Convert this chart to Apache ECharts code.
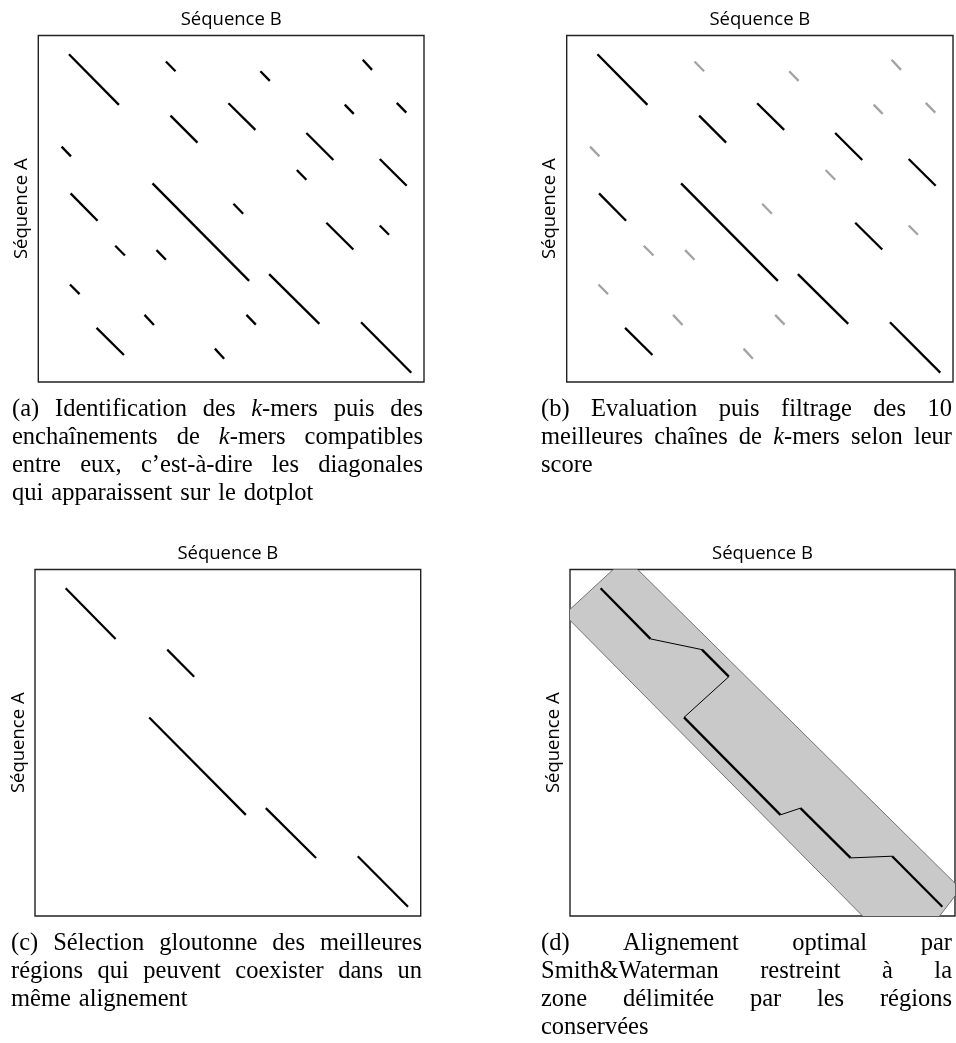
<!DOCTYPE html>
<html><head><meta charset="utf-8">
<script src="https://cdn.jsdelivr.net/npm/echarts@6/dist/echarts.min.js"></script>
<style>html,body{margin:0;padding:0;background:#fff}#c{width:956px;height:1043px}</style>
</head><body><div id="c"></div>
<script>
// ---------- data ----------
const xAxisName = 'Séquence B';
const yAxisName = 'Séquence A';
const seqBLength = 386;   // horizontal extent of the dotplot
const seqALength = 346;   // vertical extent of the dotplot

// diagonals found on the dotplot: [startB, startA, endB, endA]
const diagonals = [
  [30.7, 18.7, 80.7, 69.3],
  [127.7, 26, 137.3, 35.7],
  [222.3, 35.7, 231.7, 45.3],
  [324.7, 24.3, 334, 34.3],
  [190.3, 67.7, 217.3, 94.3],
  [132.3, 80, 159.3, 107],
  [306.7, 69, 315.7, 78.3],
  [358.7, 67.3, 368.3, 77],
  [268.3, 97.3, 295.3, 124.3],
  [23.3, 111, 32.7, 120.7],
  [341.7, 123.3, 368.7, 150],
  [258.7, 134.3, 268.3, 144],
  [114.3, 147.7, 211, 245],
  [32.3, 157.7, 59.3, 185],
  [195.3, 168, 205, 178],
  [288.3, 187, 315.3, 213.7],
  [341.7, 189.7, 351, 199],
  [77, 210, 86.7, 219.7],
  [118.3, 214.3, 127.7, 224],
  [231, 238.3, 281.3, 288],
  [31.7, 248.7, 41.3, 258.3],
  [106.3, 279, 115.7, 289],
  [208.3, 279, 217.7, 288.7],
  [323, 286.3, 373.3, 336.7],
  [58.3, 292, 85.7, 319],
  [176.7, 312.7, 186, 322.7]
];
// best chains kept in (b)
const keptB = [0, 4, 5, 8, 10, 12, 13, 15, 19, 23, 24];
// greedy selection in (c), in alignment order
const selectedC = [0, 5, 12, 19, 23];
// band explored by Smith&Waterman in (d)
const bandCorners = [[56, -11.7], [391.6, 318.8], [336.7, 389.7], [-5.7, 45]];

const captions = [
  ['(a) Identification des *k*-mers puis des',
   'enchaînements de *k*-mers compatibles',
   'entre eux, c’est-à-dire les diagonales',
   'qui apparaissent sur le dotplot'],
  ['(b) Evaluation puis filtrage des 10',
   'meilleures chaînes de *k*-mers selon leur',
   'score'],
  ['(c) Sélection gloutonne des meilleures',
   'régions qui peuvent coexister dans un',
   'même alignement'],
  ['(d) Alignement optimal par',
   'Smith&Waterman restreint à la',
   'zone délimitée par les régions',
   'conservées']
];

// ---------- layout ----------
const grids = [
  {left: 38.3, top: 35.5, width: 385.7, height: 346.5},
  {left: 566.7, top: 35.5, width: 386.3, height: 346.5},
  {left: 35, top: 569.5, width: 385.7, height: 346.5},
  {left: 570, top: 569.5, width: 385, height: 346.5}
];
const captionBoxes = [
  {left: 12, width: 411, top: 410},
  {left: 541, width: 411, top: 410},
  {left: 11, width: 411, top: 944},
  {left: 541, width: 411, top: 944}
];
const CAP_SIZE = 24.5, CAP_LH = 27.8;
const SANS = '"Open Sans"';

const chart = echarts.init(document.getElementById('c'), null, {renderer: 'canvas'});

function segRender(color, width) {
  return function (params, api) {
    const p1 = api.coord([api.value(0), api.value(1)]);
    const p2 = api.coord([api.value(2), api.value(3)]);
    return {type: 'line', shape: {x1: p1[0], y1: p1[1], x2: p2[0], y2: p2[1]},
      style: {stroke: color, lineWidth: width, lineCap: 'butt'}};
  };
}
function segSeries(gi, data, color, width, z) {
  return {type: 'custom', xAxisIndex: gi, yAxisIndex: gi, data: data,
    encode: {x: [0, 2], y: [1, 3]}, renderItem: segRender(color, width), silent: true, z: z || 3, clip: true};
}

const series = [];
// (a)
series.push(segSeries(0, diagonals, '#000', 2.3));
// (b)
series.push(segSeries(1, diagonals.filter((d, i) => !keptB.includes(i)), '#a3a3a3', 2.3));
series.push(segSeries(1, diagonals.filter((d, i) => keptB.includes(i)), '#000', 2.3));
// (c)
const sel = selectedC.map(i => diagonals[i]);
series.push(segSeries(2, sel, '#000', 2.2));
// (d) band
series.push({type: 'custom', xAxisIndex: 3, yAxisIndex: 3, data: [[0, 0]], clip: true, silent: true, z: 1,
  renderItem: function (params, api) {
    const pts = bandCorners.map(p => api.coord(p));
    return {type: 'polygon', shape: {points: pts}, style: {fill: '#c9c9c9', stroke: '#444', lineWidth: 0.7}};
  }});
const connectors = [];
for (let i = 0; i < sel.length - 1; i++) connectors.push([sel[i][2], sel[i][3], sel[i + 1][0], sel[i + 1][1]]);
series.push(segSeries(3, connectors, '#000', 1.0, 3));
series.push(segSeries(3, sel, '#000', 2.3, 4));

const xAxes = grids.map((g, i) => ({gridIndex: i, type: 'value', min: 0, max: seqBLength, position: 'top',
  name: xAxisName, nameLocation: 'middle', nameGap: 6.5,
  nameTextStyle: {fontFamily: SANS, fontSize: 18.5, color: '#000'},
  axisLine: {show: false}, axisTick: {show: false}, axisLabel: {show: false}, splitLine: {show: false}}));
const yAxes = grids.map((g, i) => ({gridIndex: i, type: 'value', min: 0, max: seqALength, inverse: true,
  name: yAxisName, nameLocation: 'middle', nameGap: 7,
  nameTextStyle: {fontFamily: SANS, fontSize: 18.5, color: '#000'},
  axisLine: {show: false}, axisTick: {show: false}, axisLabel: {show: false}, splitLine: {show: false}}));

// ---------- captions (justified) ----------
const mctx = document.createElement('canvas').getContext('2d');
function fontOf(it) { return (it ? 'italic ' : '') + CAP_SIZE + 'px "Liberation Serif"'; }
function runW(t, it) { mctx.font = fontOf(it); return mctx.measureText(t).width; }
const graphics = [];
captions.forEach((lines, ci) => {
  const box = captionBoxes[ci];
  lines.forEach((line, li) => {
    const words = line.split(' ').map(w => {
      const runs = w.split('*').map((t, k) => ({t: t, it: k % 2 === 1})).filter(r => r.t.length);
      const wd = runs.reduce((s, r) => s + runW(r.t, r.it), 0);
      return {runs, wd};
    });
    const total = words.reduce((s, w) => s + w.wd, 0);
    const last = li === lines.length - 1;
    const gap = (!last && words.length > 1) ? (box.width - total) / (words.length - 1) : runW(' ', false) * 1.3;
    let x = box.left;
    const y = box.top + li * CAP_LH;
    words.forEach(w => {
      let rx = x;
      w.runs.forEach(r => {
        graphics.push({type: 'text', x: rx, y: y, silent: true,
          style: {text: r.t, font: fontOf(r.it), fill: '#000', verticalAlign: 'middle', align: 'left'}});
        rx += runW(r.t, r.it);
      });
      x += w.wd + gap;
    });
  });
});

chart.setOption({
  animation: false,
  backgroundColor: '#fff',
  grid: grids.map(g => Object.assign({show: true, borderColor: '#222', borderWidth: 1.4, backgroundColor: 'transparent', containLabel: false}, g)),
  xAxis: xAxes,
  yAxis: yAxes,
  series: series,
  graphic: graphics
});
</script></body></html>
